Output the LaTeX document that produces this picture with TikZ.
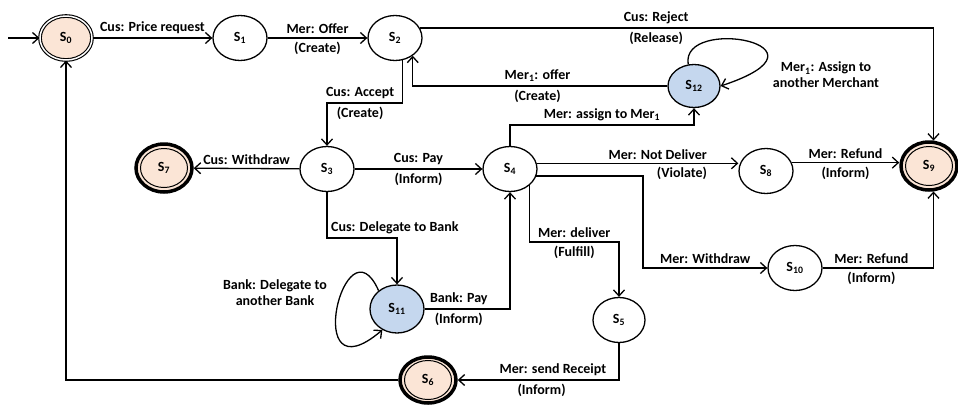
\documentclass[tikz,border=0pt]{standalone}
\usepackage{fontspec}
\setmainfont{Carlito}
\usetikzlibrary{shapes.geometric}
\usetikzlibrary{arrows.meta}
\definecolor{peach}{HTML}{FBE5D6}
\definecolor{paleblue}{HTML}{C5D7EE}
\tikzset{
 st/.style={ellipse,draw,line width=1.3pt,minimum width=54pt,minimum height=45pt,inner sep=0pt,font=\bfseries\fontsize{14}{16}\selectfont},
 first/.style={st,fill=peach,double,double distance=1.5pt,line width=1.1pt,minimum width=52pt,minimum height=44pt},
 last/.style={st,fill=peach,line width=3.5pt,minimum width=56pt,minimum height=48pt,
  path picture={\draw[line width=1pt] (path picture bounding box.center) ellipse (23.5pt and 19.5pt);}},
 bank/.style={st,fill=paleblue},
 lab/.style={font=\bfseries\fontsize{14}{16}\selectfont,inner sep=3.5pt},
 arr/.style={line width=1.3pt,-{Straight Barb[length=6pt,width=11pt]}}
}

\begin{document}
\begin{tikzpicture}[x=1pt,y=-1pt]
 \useasboundingbox (0,0) rectangle (958,405);
 \node[first] (S0) at (66,38) {S\textsubscript{0}};
 \node[st] (S1) at (240,38) {S\textsubscript{1}};
 \node[st] (S2) at (395,38) {S\textsubscript{2}};
 \node[bank,minimum width=52pt,minimum height=43pt] (S12) at (694,86) {S\textsubscript{12}};
 \node[st] (S3) at (327,169) {S\textsubscript{3}};
 \node[st] (S4) at (510,169) {S\textsubscript{4}};
 \node[last] (S7) at (164,168) {S\textsubscript{7}};
 \node[st] (S8) at (766,171) {S\textsubscript{8}};
 \node[last] (S9) at (929,166) {S\textsubscript{9}};
 \node[st] (S10) at (795,268) {S\textsubscript{10}};
 \node[bank,minimum height=48pt] (S11) at (397,309) {S\textsubscript{11}};
 \node[st,minimum width=52pt] (S5) at (619,320) {S\textsubscript{5}};
 \node[last,minimum height=46pt] (S6) at (428,380) {S\textsubscript{6}};

 \coordinate (init) at (8,38);
 \draw[arr] (init) -- (S0);
 \draw[arr] (S0) -- node[lab,above] {Cus: Price request} (S1);
 \draw[arr] (S1) -- node[lab,above] {Mer: Offer} node[lab,below] {(Create)} (S2);
 \draw[arr] (S2.22) -| node[lab,above,pos=0.23] {Cus: Reject} node[lab,below,pos=0.23] {(Release)} (S9.80);
 \draw[arr] (S12) -| node[lab,above,pos=0.255] {Mer\textsubscript{1}: offer} node[lab,below,pos=0.255] {(Create)} (S2.-45);
 \draw[arr] (S2.-72) -- (S2.-72 |- 0,103) -| node[lab,above,pos=0.28] {Cus: Accept} node[lab,below,pos=0.28] {(Create)} (S3);
 \draw[arr] (S4) -- (S4 |- 0,125) -| node[lab,above,pos=0.25] {Mer: assign to Mer\textsubscript{1}} (S12);
 \draw[arr] (S12.105) .. controls (680,15) and (845,45) .. (S12.east);
 \node[lab,align=center] (L12) at (826,75) {Mer\textsubscript{1}: Assign to\\another Merchant};

 \draw[arr] (S3) -- node[lab,above] {Cus: Withdraw} (S7);
 \draw[arr] (S3) -- node[lab,above] {Cus: Pay} node[lab,below] {(Inform)} (S4);
 \draw[arr] (S4.12) -- node[lab,above,pos=0.6] {Mer: Not Deliver} node[lab,below,pos=0.72] {(Violate)} (S4.12 -| S8.west);
 \draw[arr] (S4.-15) -- (S4.-15 -| 643,0) |- node[lab,above,pos=0.75] {Mer: Withdraw} (S10);
 \draw[arr] (S8.18) -- node[lab,above] {Mer: Refund} node[lab,below] {(Inform)} (S8.18 -| S9.west);
 \draw[arr] (S10) -| node[lab,above,pos=0.22] {Mer: Refund} node[lab,below,pos=0.22] {(Inform)} (S9.-80);

 \draw[arr] (S3) -- (S3 |- 0,238) -| node[lab,above right,pos=0] {Cus: Delegate to Bank} (S11);
 \draw[arr] (S11) -| node[lab,above,pos=0.2] {Bank: Pay} node[lab,below,pos=0.2] {(Inform)} (S4);
 \draw[arr] (S11.135) .. controls (345,215) and (300,400) .. (S11.-125);
 \node[lab,align=center] (L11) at (275,293) {Bank: Delegate to\\another Bank};
 \draw[arr] (S4.-40) -- (S4.-40 |- 0,242) -| node[lab,above,pos=0.25] {Mer: deliver} node[lab,below,pos=0.25] {(Fulfill)} (S5);
 \draw[arr] (S5) |- node[lab,above,pos=0.705] {Mer: send Receipt} node[lab,below,pos=0.74] {(Inform)} (S6);
 \draw[arr] (S6) -| (S0);
\end{tikzpicture}
\end{document}
